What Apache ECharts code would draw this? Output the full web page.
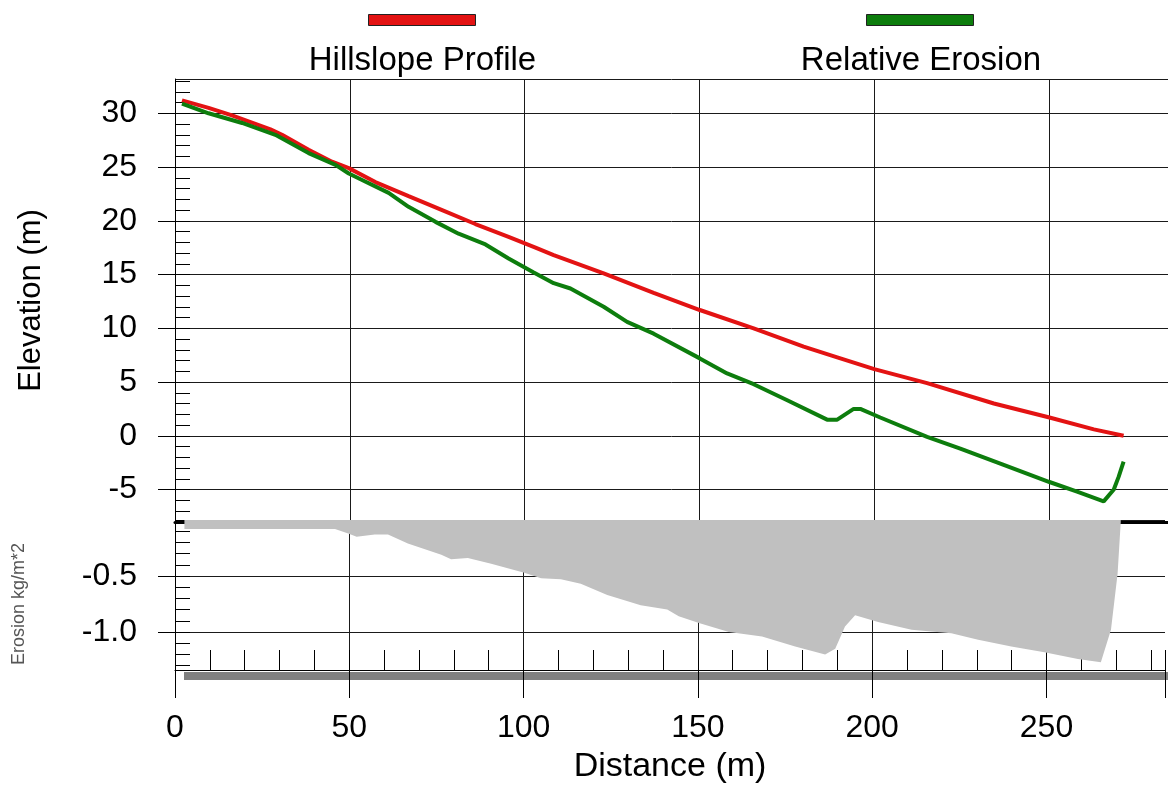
<!DOCTYPE html>
<html lang="en">
<head>
    <meta charset="UTF-8">
    <title>Hillslope Profile</title>
    <script src="https://cdn.jsdelivr.net/npm/echarts@6/dist/echarts.min.js"></script>
    <style>
        body { margin: 0; background: #fff; }
        #graph { width: 1168px; height: 785px; }
    </style>
</head>
<body>
<div id="graph"></div>
<script>
    // profile (red)
    var profileDistance = [2.0, 9.6, 16.3, 27.3, 30.6, 38.2, 44.9, 49.7, 57.3, 66.8, 76.4, 85.9, 95.4, 103.1,
        108.3, 122.6, 136.9, 150.1, 165.5, 179.8, 189.4, 200.0, 215.1, 234.2, 250.1, 262.8, 271.3];
    var profileElevation = [31.2, 30.5, 29.8, 28.5, 28.0, 26.6, 25.5, 24.9, 23.6, 22.3, 21.0, 19.7, 18.5, 17.5,
        16.8, 15.1, 13.3, 11.7, 10.0, 8.3, 7.3, 6.2, 4.9, 3.0, 1.7, 0.6, 0.0];

    // relative erosion line (green)
    var relDistance = [2.0, 9.6, 19.2, 28.7, 38.2, 45.9, 49.7, 53.5, 61.1, 66.8, 74.5, 81.1, 88.8, 95.4, 102.6,
        108.3, 113.1, 122.6, 129.3, 136.9, 150.1, 157.9, 165.5, 175.1, 186.5, 189.4, 194.1, 196.0, 201.7,
        215.1, 224.6, 237.0, 250.1, 258.0, 265.6, 268.5, 269.9, 271.3];
    var relElevation = [30.9, 30.0, 29.1, 28.0, 26.3, 25.2, 24.4, 23.8, 22.6, 21.3, 19.9, 18.8, 17.8, 16.5, 15.2,
        14.2, 13.7, 12.0, 10.6, 9.5, 7.2, 5.8, 4.8, 3.3, 1.5, 1.5, 2.5, 2.5, 1.7,
        -0.1, -1.2, -2.7, -4.3, -5.2, -6.1, -5.0, -3.8, -2.4];

    // soil loss (grey fill)
    var lossDistance = [2.7, 45.9, 49.7, 52.1, 57.3, 61.1, 66.8, 76.4, 79.2, 84.0, 90.7, 100.2, 105.0, 110.7,
        116.4, 124.0, 133.6, 141.2, 144.5, 150.3, 158.9, 168.4, 177.9, 186.5, 189.4, 192.2, 195.1, 201.7,
        211.3, 222.7, 230.4, 239.9, 249.4, 259.0, 265.6, 268.5, 270.4, 271.3];
    var lossValue = [-0.08, -0.08, -0.12, -0.15, -0.13, -0.13, -0.21, -0.31, -0.35, -0.34, -0.39, -0.47, -0.52, -0.53,
        -0.57, -0.67, -0.76, -0.80, -0.86, -0.92, -1.00, -1.04, -1.13, -1.20, -1.15, -0.95, -0.85, -0.91,
        -0.98, -1.01, -1.07, -1.13, -1.18, -1.24, -1.27, -0.98, -0.48, -0.02];

    var seriesNames = ['Hillslope Profile', 'Relative Erosion'];

    var FONT = '"Liberation Sans", Arial, sans-serif';
    var X_MAX = 284;

    function pairs(xs, ys) {
        var out = [];
        for (var i = 0; i < xs.length; i++) out.push([xs[i], ys[i]]);
        return out;
    }

    var myChart = echarts.init(document.getElementById('graph'));

    function hiddenX(grid) {
        return { type: 'value', gridIndex: grid, min: 0, max: X_MAX, show: false };
    }

    var option = {
        animation: false,
        backgroundColor: '#fff',
        textStyle: { fontFamily: FONT },
        grid: [
            { left: 175, right: 0, top: 79, height: 443 },        // 0 elevation
            { left: 175, right: 0, top: 520, height: 150 },       // 1 erosion
            { left: 175, right: 0, top: 113.3, height: 376.25 },  // 2 elevation labels -5..30
            { left: 175, right: 0, top: 81.05, height: 430 },     // 3 elevation minor ticks -7..33
            { left: 175, right: 0, top: 576, height: 56 },        // 4 erosion labels -1..-0.5
            { left: 175, right: 0, top: 520, height: 145.6 },     // 5 erosion minor ticks -1.3..0
            { left: 184, right: 0, top: 672, height: 8, show: true, backgroundColor: '#808080', borderWidth: 0, z: -1 }
        ],
        xAxis: [
            {
                type: 'value', gridIndex: 0, min: 0, max: X_MAX, interval: 50, position: 'bottom',
                axisLine: { show: true, onZero: false, lineStyle: { color: '#000', width: 3 } },
                axisTick: { show: false }, axisLabel: { show: false },
                splitLine: { show: true, showMaxLine: false, lineStyle: { color: '#1a1a1a', width: 1 } }
            },
            {
                type: 'value', gridIndex: 1, min: 0, max: X_MAX, interval: 50, position: 'bottom',
                axisLine: { show: true, onZero: false, lineStyle: { color: '#000', width: 1 } },
                axisTick: { show: true, length: 28, lineStyle: { color: '#000' } },
                axisLabel: {
                    margin: 42, fontSize: 32, color: '#000', fontFamily: FONT,
                    formatter: function (v) { return v % 50 === 0 ? v : ''; }
                },
                splitLine: { show: true, showMaxLine: false, lineStyle: { color: '#1a1a1a', width: 1 } },
                name: 'Distance (m)', nameLocation: 'middle', nameGap: 80,
                nameTextStyle: { fontSize: 34, color: '#000', fontFamily: FONT }
            },
            {
                type: 'value', gridIndex: 1, min: 0, max: X_MAX, interval: 10, position: 'bottom',
                axisLine: { show: false, onZero: false },
                axisTick: { show: true, inside: true, length: 20, lineStyle: { color: '#000' } },
                axisLabel: { show: false }, splitLine: { show: false }
            },
            hiddenX(2), hiddenX(3), hiddenX(4), hiddenX(5), hiddenX(6)
        ],
        yAxis: [
            {
                type: 'value', gridIndex: 0, min: -8.02, max: 33.19, splitNumber: 8,
                axisLine: { show: true, onZero: false, lineStyle: { color: '#000' } },
                axisTick: { show: false }, axisLabel: { show: false },
                splitLine: { show: true, lineStyle: { color: '#1a1a1a', width: 1 } },
                name: 'Elevation (m)', nameLocation: 'middle', nameGap: 128,
                nameTextStyle: { fontSize: 31, color: '#000', fontFamily: FONT }
            },
            {
                type: 'value', gridIndex: 1, min: -1.339, max: 0, splitNumber: 3,
                axisLine: { show: true, onZero: false, lineStyle: { color: '#000' } },
                axisTick: { show: false }, axisLabel: { show: false },
                splitLine: { show: true, lineStyle: { color: '#1a1a1a', width: 1 } }
            },
            {
                type: 'value', gridIndex: 2, min: -5, max: 30, interval: 5,
                axisLine: { show: false, onZero: false },
                axisTick: { show: true, length: 17, lineStyle: { color: '#000' } },
                axisLabel: { margin: 38, fontSize: 32, color: '#000', fontFamily: FONT },
                splitLine: { show: false }
            },
            {
                type: 'value', gridIndex: 3, min: -7, max: 33, interval: 1,
                axisLine: { show: false, onZero: false },
                axisTick: { show: true, inside: true, length: 15, lineStyle: { color: '#000' } },
                axisLabel: { show: false }, splitLine: { show: false }
            },
            {
                type: 'value', gridIndex: 4, min: -1, max: -0.5, interval: 0.5,
                axisLine: { show: false, onZero: false },
                axisTick: { show: true, length: 17, lineStyle: { color: '#000' } },
                axisLabel: {
                    margin: 38, fontSize: 32, color: '#000', fontFamily: FONT,
                    formatter: function (v) { return v.toFixed(1); }
                },
                splitLine: { show: false },
                name: 'Erosion kg/m*2', nameLocation: 'middle', nameGap: 147,
                nameTextStyle: { fontSize: 18, color: '#555', fontFamily: FONT }
            },
            {
                type: 'value', gridIndex: 5, min: -1.3, max: 0, interval: 0.1,
                axisLine: { show: false, onZero: false },
                axisTick: { show: true, inside: true, length: 15, lineStyle: { color: '#000' } },
                axisLabel: { show: false }, splitLine: { show: false }
            },
            { type: 'value', gridIndex: 6, min: 0, max: 1, show: false }
        ],
        legend: [
            {
                data: [seriesNames[0]], left: 368, top: 14, padding: 0,
                icon: 'rect', itemWidth: 107, itemHeight: 11,
                itemStyle: { borderColor: '#222', borderWidth: 1 },
                formatter: function () { return ''; }
            },
            {
                data: [seriesNames[1]], left: 866, top: 14, padding: 0,
                icon: 'rect', itemWidth: 107, itemHeight: 11,
                itemStyle: { borderColor: '#222', borderWidth: 1 },
                formatter: function () { return ''; }
            }
        ],
        graphic: [
            {
                type: 'text', x: 422.5, y: 61,
                style: { text: seriesNames[0], font: '33px ' + FONT, fill: '#000',
                    textAlign: 'center', textVerticalAlign: 'middle', align: 'center', verticalAlign: 'middle' }
            },
            {
                type: 'text', x: 921, y: 61,
                style: { text: seriesNames[1], font: '33px ' + FONT, fill: '#000',
                    textAlign: 'center', textVerticalAlign: 'middle', align: 'center', verticalAlign: 'middle' }
            }
        ],
        series: [
            {
                name: 'Erosion', type: 'line', xAxisIndex: 1, yAxisIndex: 1,
                data: pairs(lossDistance, lossValue),
                showSymbol: false, silent: true,
                lineStyle: { width: 0, color: '#c0c0c0' },
                itemStyle: { color: '#c0c0c0' },
                areaStyle: { color: '#c0c0c0', opacity: 1, origin: 'end' }
            },
            {
                name: seriesNames[0], type: 'line', xAxisIndex: 0, yAxisIndex: 0,
                data: pairs(profileDistance, profileElevation),
                showSymbol: false,
                itemStyle: { color: '#e31313' },
                lineStyle: { color: '#e31313', width: 4 }
            },
            {
                name: seriesNames[1], type: 'line', xAxisIndex: 0, yAxisIndex: 0,
                data: pairs(relDistance, relElevation),
                showSymbol: false,
                itemStyle: { color: '#0d7d0d' },
                lineStyle: { color: '#0d7d0d', width: 4 }
            }
        ]
    };

    myChart.setOption(option);
</script>
</body>
</html>
